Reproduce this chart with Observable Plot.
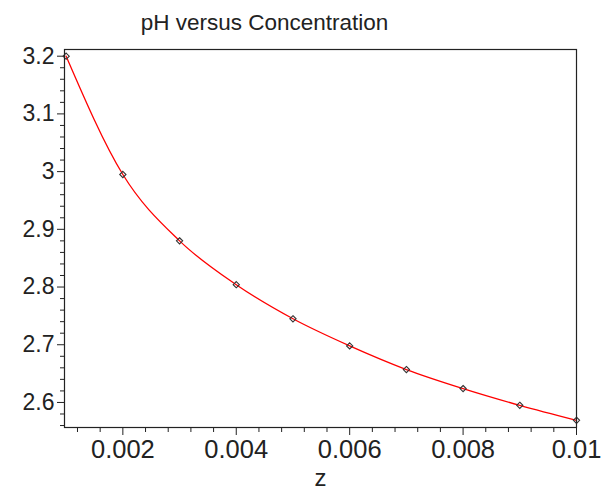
<!DOCTYPE html>
<html><head><meta charset="utf-8">
<script src="https://cdn.jsdelivr.net/npm/d3@7"></script>
<script src="https://cdn.jsdelivr.net/npm/@observablehq/plot@0.6"></script>
<style>
body{margin:0;background:#fff;font-family:"Liberation Sans",Arial,sans-serif;}
#title{width:529px;height:28px;padding-top:12px;text-align:center;font-size:22.5px;line-height:22px;color:#222;white-space:nowrap;}
</style></head><body>
<div id="title">pH versus Concentration</div>
<div id="chart"></div>
<script>
const concentration = [0.001, 0.002, 0.003, 0.004, 0.005, 0.006, 0.007, 0.008, 0.009, 0.010];
const pH = [3.200, 2.995, 2.880, 2.804, 2.745, 2.698, 2.657, 2.624, 2.595, 2.569];
const xMajorTicks = [0.002, 0.004, 0.006, 0.008, 0.010];
const xMinorTicks = [0.0012, 0.0016, 0.0024, 0.0028, 0.0032, 0.0036, 0.0044, 0.0048, 0.0052, 0.0056,
                     0.0064, 0.0068, 0.0072, 0.0076, 0.0084, 0.0088, 0.0092, 0.0096];
const yMajorTicks = [2.6, 2.7, 2.8, 2.9, 3.0, 3.1, 3.2];
const yMinorTicks = [2.56, 2.58, 2.62, 2.64, 2.66, 2.68, 2.72, 2.74, 2.76, 2.78, 2.82, 2.84, 2.86, 2.88,
                     2.92, 2.94, 2.96, 2.98, 3.02, 3.04, 3.06, 3.08, 3.12, 3.14, 3.16, 3.18];

const data = concentration.map((z, i) => ({z, pH: pH[i]}));
const fmt = d => String(+(+d).toFixed(4));
const blank = () => "";

const chart = Plot.plot({
  width: 611,
  height: 451,
  marginTop: 9,
  marginBottom: 64,
  marginLeft: 64,
  marginRight: 35,
  style: {fontFamily: '"Liberation Sans", Arial, sans-serif', color: "#222", background: "#fff"},
  x: {domain: [0.000971, 0.01]},
  y: {domain: [2.5566, 3.2116]},
  marks: [
    Plot.axisY(yMinorTicks, {tickSize: 4, tickFormat: blank, label: null}),
    Plot.axisY(yMajorTicks, {tickSize: 7, tickPadding: 3, tickFormat: fmt, fontSize: 23, label: null}),
    Plot.axisX(xMinorTicks, {tickSize: 5, tickFormat: blank, label: null}),
    Plot.axisX(xMajorTicks, {tickSize: 8, tickPadding: 4, tickFormat: fmt, fontSize: 25.5, label: null}),
    Plot.axisX([], {tickSize: 0, fontSize: 24, label: "z", labelAnchor: "center", labelOffset: 58, labelArrow: "none"}),
    Plot.line(data, {x: "z", y: "pH", stroke: "#ff0000", strokeWidth: 1.3, curve: "monotone-x"}),
    Plot.dot(data, {x: "z", y: "pH", symbol: "diamond2", r: 2.8, stroke: "#333", strokeWidth: 1.1, fill: "none"}),
    Plot.frame({stroke: "#222", strokeWidth: 1.2})
  ]
});
document.getElementById("chart").appendChild(chart);
</script>
</body></html>
